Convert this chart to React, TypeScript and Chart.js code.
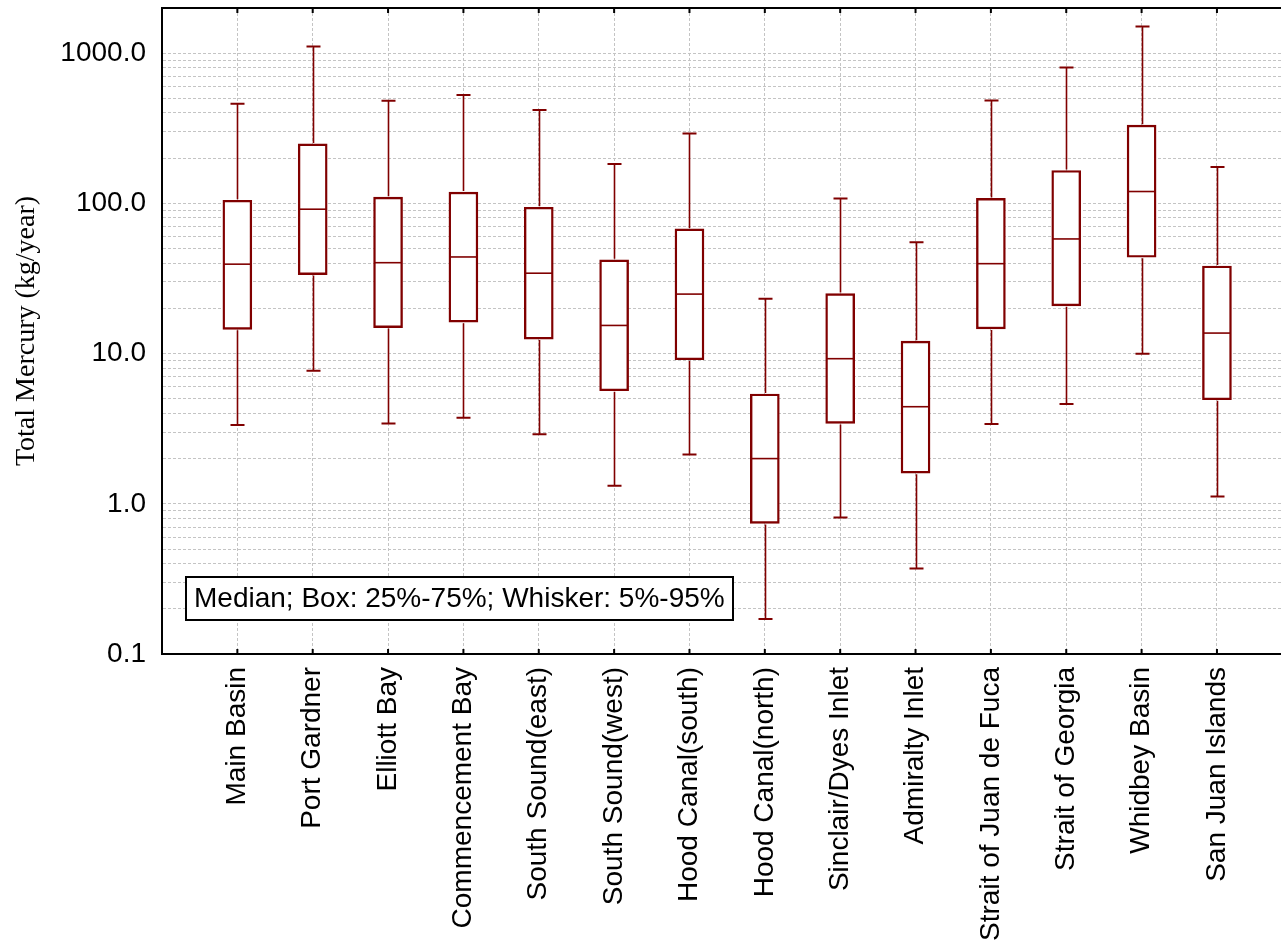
import React, { useEffect, useRef } from 'react';
import { Chart, registerables } from 'chart.js';

Chart.register(...registerables);

const categories = [
  'Main Basin',
  'Port Gardner',
  'Elliott Bay',
  'Commencement Bay',
  'South Sound(east)',
  'South Sound(west)',
  'Hood Canal(south)',
  'Hood Canal(north)',
  'Sinclair/Dyes Inlet',
  'Admiralty Inlet',
  'Strait of Juan de Fuca',
  'Strait of Georgia',
  'Whidbey Basin',
  'San Juan Islands',
];

// 5th percentile (lower whisker)
const whiskerLow = [3.35, 7.7, 3.43, 3.74, 2.9, 1.32, 2.13, 0.171, 0.81, 0.371, 3.4, 4.62, 9.98, 1.12];
// 25th percentile (box bottom)
const boxLow = [14.5, 33.6, 14.9, 16.2, 12.5, 5.66, 9.1, 0.74, 3.43, 1.6, 14.6, 20.8, 43.8, 4.93];
// median
const medians = [39.4, 91.5, 40.3, 44, 34.3, 15.4, 24.9, 2.0, 9.25, 4.43, 39.7, 58, 120, 13.7];
// 75th percentile (box top)
const boxHigh = [105, 249, 110, 119, 94.3, 42.1, 67.6, 5.38, 25.1, 12.1, 108, 165.5, 332, 38.3];
// 95th percentile (upper whisker)
const whiskerHigh = [460, 1109, 482, 526, 418, 183, 292, 23.2, 108, 55.2, 484, 803, 1507, 175];

const yDecades = [0.1, 1, 10, 100, 1000];
const yMinorSteps = [1, 2, 3, 4, 5, 6, 7, 8, 9];
const yMin = 0.1;
const yMax = 2000;
const xMin = 0;
const xMax = 14.85;
const legendText = 'Median; Box: 25%-75%; Whisker: 5%-95%';

const DARK_RED = '#800000';
const SANS = '"Liberation Sans", Arial, sans-serif';

const boxPlugin = {
  id: 'boxWhisker',
  afterDatasetsDraw(chart: any) {
    const ctx = chart.ctx;
    const xs = chart.scales.x;
    const ys = chart.scales.y;
    const meta = chart.getDatasetMeta(0);
    const area = chart.chartArea;
    ctx.save();
    ctx.strokeStyle = DARK_RED;
    categories.forEach((_, i) => {
      const el = meta.data[i];
      const px = Math.round(xs.getPixelForValue(i + 1)) + 0.5;
      const half = el.width / 2;
      const yWH = ys.getPixelForValue(whiskerHigh[i]);
      const yBH = ys.getPixelForValue(boxHigh[i]);
      const yMed = ys.getPixelForValue(medians[i]);
      const yBL = ys.getPixelForValue(boxLow[i]);
      const yWL = ys.getPixelForValue(whiskerLow[i]);
      // whiskers
      ctx.lineWidth = 1.6;
      ctx.beginPath();
      ctx.moveTo(px, yBH - 1);
      ctx.lineTo(px, yWH);
      ctx.moveTo(px, yBL + 1);
      ctx.lineTo(px, yWL);
      ctx.stroke();
      // caps
      ctx.lineWidth = 2;
      ctx.beginPath();
      ctx.moveTo(px - 7, yWH);
      ctx.lineTo(px + 7, yWH);
      ctx.moveTo(px - 7, yWL);
      ctx.lineTo(px + 7, yWL);
      ctx.stroke();
      // median
      ctx.lineWidth = 1.6;
      ctx.beginPath();
      ctx.moveTo(el.x - half + 1, yMed);
      ctx.lineTo(el.x + half - 1, yMed);
      ctx.stroke();
    });
    // top border
    ctx.strokeStyle = '#000';
    ctx.lineWidth = 2;
    ctx.beginPath();
    ctx.moveTo(area.left - 1, area.top);
    ctx.lineTo(area.right, area.top);
    ctx.stroke();
    // inward tick marks top and bottom
    ctx.lineWidth = 2;
    ctx.beginPath();
    xs.ticks.forEach((t: any) => {
      const px = xs.getPixelForValue(t.value);
      ctx.moveTo(px, area.top);
      ctx.lineTo(px, area.top + 5);
      ctx.moveTo(px, area.bottom);
      ctx.lineTo(px, area.bottom - 5);
    });
    ctx.stroke();
    // legend annotation box
    const bx = area.left + 24;
    const by = area.bottom - 77;
    const bw = 547;
    const bh = 43;
    ctx.fillStyle = '#fff';
    ctx.fillRect(bx, by, bw, bh);
    ctx.strokeStyle = '#000';
    ctx.lineWidth = 2;
    ctx.strokeRect(bx, by, bw, bh);
    ctx.fillStyle = '#000';
    ctx.font = `28px ${SANS}`;
    ctx.textBaseline = 'middle';
    ctx.textAlign = 'left';
    ctx.fillText(legendText, bx + 8, by + bh / 2 + 1);
    ctx.restore();
  },
};

export default function App() {
  const canvasRef = useRef<HTMLCanvasElement | null>(null);

  useEffect(() => {
    if (!canvasRef.current) return;
    const chart = new Chart(canvasRef.current, {
      type: 'bar',
      data: {
        datasets: [
          {
            data: categories.map((_, i) => ({ x: i + 1, y: [boxLow[i], boxHigh[i]] })) as any,
            backgroundColor: '#ffffff',
            borderColor: DARK_RED,
            borderWidth: 2.4,
            borderSkipped: false,
            barThickness: 29,
          } as any,
        ],
      },
      options: {
        responsive: false,
        animation: false,
        layout: { padding: { top: 8, left: 0, right: 0, bottom: 0 } },
        plugins: {
          legend: { display: false },
          tooltip: { enabled: false },
          title: { display: false },
        },
        scales: {
          x: {
            type: 'linear',
            min: xMin,
            max: xMax,
            offset: false,
            afterBuildTicks: (s: any) => {
              s.ticks = categories.map((_, i) => ({ value: i + 1 }));
            },
            afterFit: (s: any) => {
              s.height = 297;
              s.paddingLeft = 0;
              s.paddingRight = 0;
            },
            ticks: {
              autoSkip: false,
              maxRotation: 90,
              minRotation: 90,
              padding: 13,
              color: '#000',
              font: { family: SANS, size: 28 },
              callback: (v: any) => categories[Math.round(Number(v)) - 1] ?? '',
            },
            grid: {
              color: '#c4c4c4',
              lineWidth: 1,
              drawTicks: false,
              offset: false,
            },
            border: { display: true, color: '#000', width: 2, dash: [3, 2] },
          },
          y: {
            type: 'logarithmic',
            min: yMin,
            max: yMax,
            afterBuildTicks: (s: any) => {
              const t: any[] = [];
              yDecades.forEach((d) => {
                yMinorSteps.forEach((m) => {
                  const v = Number((d * m).toPrecision(6));
                  if (v >= yMin && v <= yMax) t.push({ value: v });
                });
              });
              s.ticks = t;
            },
            afterFit: (s: any) => {
              s.width = 162;
              s.paddingTop = 0;
              s.paddingBottom = 0;
            },
            ticks: {
              autoSkip: false,
              padding: 16,
              color: '#000',
              font: { family: SANS, size: 28 },
              callback: (v: any) => {
                const n = Number(v);
                const match = yDecades.find((d) => Math.abs(d - n) < 1e-9 * Math.max(1, d));
                return match !== undefined ? match.toFixed(1) : '';
              },
            },
            grid: {
              color: '#c4c4c4',
              lineWidth: 1,
              drawTicks: false,
            },
            border: { display: true, color: '#000', width: 2, dash: [3, 2] },
            title: {
              display: true,
              text: 'Total Mercury (kg/year)',
              color: '#000',
              font: { family: '"Liberation Serif", "Times New Roman", serif', size: 28 },
              padding: { top: 10, bottom: 0 },
            },
          },
        },
      },
      plugins: [boxPlugin],
    });
    return () => chart.destroy();
  }, []);

  return (
    <div style={{ position: 'absolute', left: 0, top: 0, width: 1281, height: 951 }}>
      <canvas ref={canvasRef} width={1281} height={951} style={{ display: 'block' }} />
    </div>
  );
}
